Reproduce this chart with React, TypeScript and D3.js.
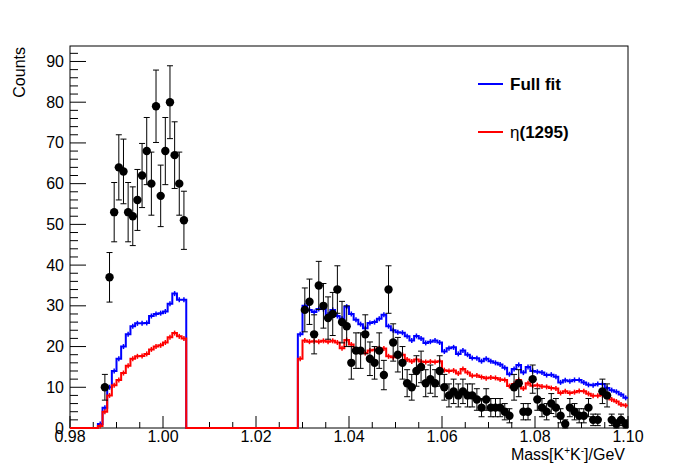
import React from "react";
import * as d3 from "d3";

// Histogram of data (bin width 0.001 GeV), counts
const dataLeftStart = 0.9875;
const dataLeft = [10, 37, 53, 64, 63, 53, 52, 56, 62, 68, 60, 79, 57, 68, 80, 67, 60, 51];
const dataRightStart = 1.0305;
const dataRight = [
  29, 31, 23, 35, 30, 27, 28, 34, 26, 25,
  16, 19, 19, 23, 17, 16, 19, 13, 34, 21,
  18, 16, 11, 10, 14, 15, 11, 12, 11, 14,
  10, 8, 9, 8, 9, 8, 8, 7, 5, 7,
  5, 5, 5, 4, 3, 10, 11, 4, 4, 12,
  7, 5, 4, 6, 5, 3, 1, 5, 4, 3,
  3, 5, 2, 2, 9, 8, 2, 1, 2, 1,
];

// Fit curves, lower bin edges 0.986 and 1.029, width 0.001
const curveLeftStart = 0.986;
const curveRightStart = 1.029;
const binWidth = 0.001;
const fullFitLeft = [1, 5, 10, 14, 17, 20, 23, 25, 25.7, 25.7, 25.8, 27.5, 28, 28.2, 28.6, 30.5, 33, 31.5, 31.5];
const fullFitRight = [
  23, 30, 29, 28.5, 29.2, 29.2, 27.8, 29, 27.5, 26.8, 29.8, 28, 26.6, 25.5, 24.5, 25.8, 26, 26.8, 27.8, 25, 24, 23.5,
  23.4, 22.5, 21.5, 22.6, 22, 20.9, 21.2, 21.5, 21, 18.8, 19.6, 19.8, 18.2, 19, 18, 17.2, 17.1, 16.4, 17, 16.4, 16, 15.6, 14.8, 13.2,
  14.5, 15.5, 13.6, 15, 14, 13.8, 13.6, 13, 13.1, 12.6, 11.2, 11.7, 11.5, 11.8, 11.8, 11.2, 10.6, 10.5, 10.8, 10.8, 9.8, 9.3, 8.9, 8.2, 7.4,
];
const etaLeft = [0.5, 4, 8, 10.5, 11.8, 13.5, 15.3, 17, 17.6, 17.7, 18.2, 19.3, 20, 20.3, 21, 22.3, 23.3, 22.5, 22];
const etaRight = [
  17, 21.5, 21.2, 21.3, 21.2, 21.4, 21.2, 21.4, 21, 19.6, 21.6, 20.5, 19, 18.5, 18.4, 19, 19.2, 19.6, 19.5, 17.6, 17.4, 17.8,
  18, 16.8, 16.3, 16.8, 16.3, 16.2, 16.3, 16.2, 16.4, 14.2, 14, 14.1, 13.4, 14.5, 13.6, 12.8, 12.9, 12.5, 12.2, 12.4, 12.3, 11.9, 11.8, 10.3,
  10.8, 11.8, 9.7, 11, 10.4, 10.5, 10.2, 10.1, 9.8, 9.7, 8.6, 9, 8.6, 8.8, 9.1, 9, 8.4, 7.9, 7.9, 8.1, 7.7, 7, 6.5, 5.8, 5.5,
];

const xTicks = [0.98, 1.0, 1.02, 1.04, 1.06, 1.08, 1.1];
const yTicks = [0, 10, 20, 30, 40, 50, 60, 70, 80, 90];

const legendItems = [
  { label: "Full fit", color: "#0000ff" },
  { label: "η(1295)", color: "#ff0000" },
];

const W = 698;
const H = 476;
const frame = { left: 70, right: 628, top: 46, bottom: 428 };
const font = "'Liberation Sans', Arial, Helvetica, sans-serif";

export default function App() {
  const x = d3.scaleLinear().domain([0.98, 1.1]).range([frame.left, frame.right]);
  const y = d3.scaleLinear().domain([0, 93.8]).range([frame.bottom, frame.top]);

  const points = [
    ...dataLeft.map((v, i) => ({ m: dataLeftStart + i * binWidth, v })),
    ...dataRight.map((v, i) => ({ m: dataRightStart + i * binWidth, v })),
  ];

  const stepLine = d3
    .line<[number, number]>()
    .x((d) => x(d[0]))
    .y((d) => y(d[1]))
    .curve(d3.curveStepAfter);

  const curvePoints = (left: number[], right: number[]): [number, number][] => {
    const pts: [number, number][] = [[0.98, 0]];
    left.forEach((v, i) => pts.push([curveLeftStart + i * binWidth, v]));
    pts.push([curveLeftStart + left.length * binWidth, 0]);
    right.forEach((v, i) => pts.push([curveRightStart + i * binWidth, v]));
    pts.push([1.1, right[right.length - 1]]);
    return pts;
  };

  const curveTicks = (left: number[], right: number[]) => [
    ...left.map((v, i) => ({ m: curveLeftStart + (i + 0.5) * binWidth, v })),
    ...right.map((v, i) => ({ m: curveRightStart + (i + 0.5) * binWidth, v })),
  ];

  const curves = [
    { left: fullFitLeft, right: fullFitRight, color: legendItems[0].color },
    { left: etaLeft, right: etaRight, color: legendItems[1].color },
  ];

  const xMinor = d3.range(0.98, 1.1001, 0.005).filter((t) => !xTicks.some((m) => Math.abs(m - t) < 1e-6));
  const yMinor = d3.range(0, 93, 2).filter((t) => t % 10 !== 0);

  return (
    <svg
      width={W}
      height={H}
      style={{ position: "absolute", left: 0, top: 0, background: "#fff" }}
      fontFamily={font}
    >
      <rect x={0} y={0} width={W} height={H} fill="#fff" />
      <defs>
        <clipPath id="plotClip">
          <rect x={frame.left} y={frame.top} width={frame.right - frame.left} height={frame.bottom - frame.top + 2} />
        </clipPath>
      </defs>

      {/* frame */}
      <rect
        x={frame.left}
        y={frame.top}
        width={frame.right - frame.left}
        height={frame.bottom - frame.top}
        fill="none"
        stroke="#000"
        strokeWidth={1}
      />

      {/* x ticks */}
      {xTicks.map((t) => (
        <g key={`xt${t}`}>
          <line x1={x(t)} x2={x(t)} y1={frame.bottom} y2={frame.bottom - 12} stroke="#000" />
          <text x={x(t)} y={442} fontSize={16} textAnchor="middle">
            {t.toFixed(2)}
          </text>
        </g>
      ))}
      {xMinor.map((t) => (
        <line key={`xm${t}`} x1={x(t)} x2={x(t)} y1={frame.bottom} y2={frame.bottom - 6} stroke="#000" />
      ))}

      {/* y ticks */}
      {yTicks.map((t) => (
        <g key={`yt${t}`}>
          <line x1={frame.left} x2={frame.left + 16} y1={y(t)} y2={y(t)} stroke="#000" />
          <text x={64} y={y(t) + 5.5} fontSize={16} textAnchor="end">
            {t}
          </text>
        </g>
      ))}
      {yMinor.map((t) => (
        <line key={`ym${t}`} x1={frame.left} x2={frame.left + 8} y1={y(t)} y2={y(t)} stroke="#000" />
      ))}

      {/* axis titles */}
      <text x={625} y={460} fontSize={16} textAnchor="end">
        Mass[K
        <tspan dy={-6} fontSize={10}>+</tspan>
        <tspan dy={6}>K</tspan>
        <tspan dy={-6} fontSize={10}>-</tspan>
        <tspan dy={6}>]/GeV</tspan>
      </text>
      <text transform="translate(25,47) rotate(-90)" fontSize={16} textAnchor="end">
        Counts
      </text>

      <g clipPath="url(#plotClip)">
        {/* fit curves */}
        {curves.map((c, k) => (
          <g key={`c${k}`}>
            <path d={stepLine(curvePoints(c.left, c.right)) || ""} fill="none" stroke={c.color} strokeWidth={2} />
            {curveTicks(c.left, c.right).map((p, i) => (
              <line
                key={i}
                x1={x(p.m)}
                x2={x(p.m)}
                y1={y(p.v) - 2.5}
                y2={y(p.v) + 2.5}
                stroke={c.color}
                strokeWidth={1.5}
              />
            ))}
          </g>
        ))}

        {/* data points with Poisson errors */}
        {points.map((p, i) => {
          const e = Math.sqrt(p.v);
          const cx = x(p.m);
          return (
            <g key={`p${i}`} stroke="#000" strokeWidth={1}>
              <line x1={cx} x2={cx} y1={y(p.v + e)} y2={y(Math.max(0, p.v - e))} />
              <line x1={cx - 3} x2={cx + 3} y1={y(p.v + e)} y2={y(p.v + e)} />
              <line x1={cx - 3} x2={cx + 3} y1={y(Math.max(0, p.v - e))} y2={y(Math.max(0, p.v - e))} />
              <circle cx={cx} cy={y(p.v)} r={4.2} fill="#000" stroke="none" />
            </g>
          );
        })}
      </g>

      {/* legend */}
      {legendItems.map((d, i) => {
        const ly = 84 + i * 48;
        return (
          <g key={d.label}>
            <line x1={478} x2={503} y1={ly} y2={ly} stroke={d.color} strokeWidth={2} />
            <text x={510} y={ly + 6} fontSize={17} fontWeight="bold">
              {d.label.startsWith("η") ? (
                <>
                  <tspan fontWeight="normal">η</tspan>
                  {d.label.slice(1)}
                </>
              ) : (
                d.label
              )}
            </text>
          </g>
        );
      })}
    </svg>
  );
}
